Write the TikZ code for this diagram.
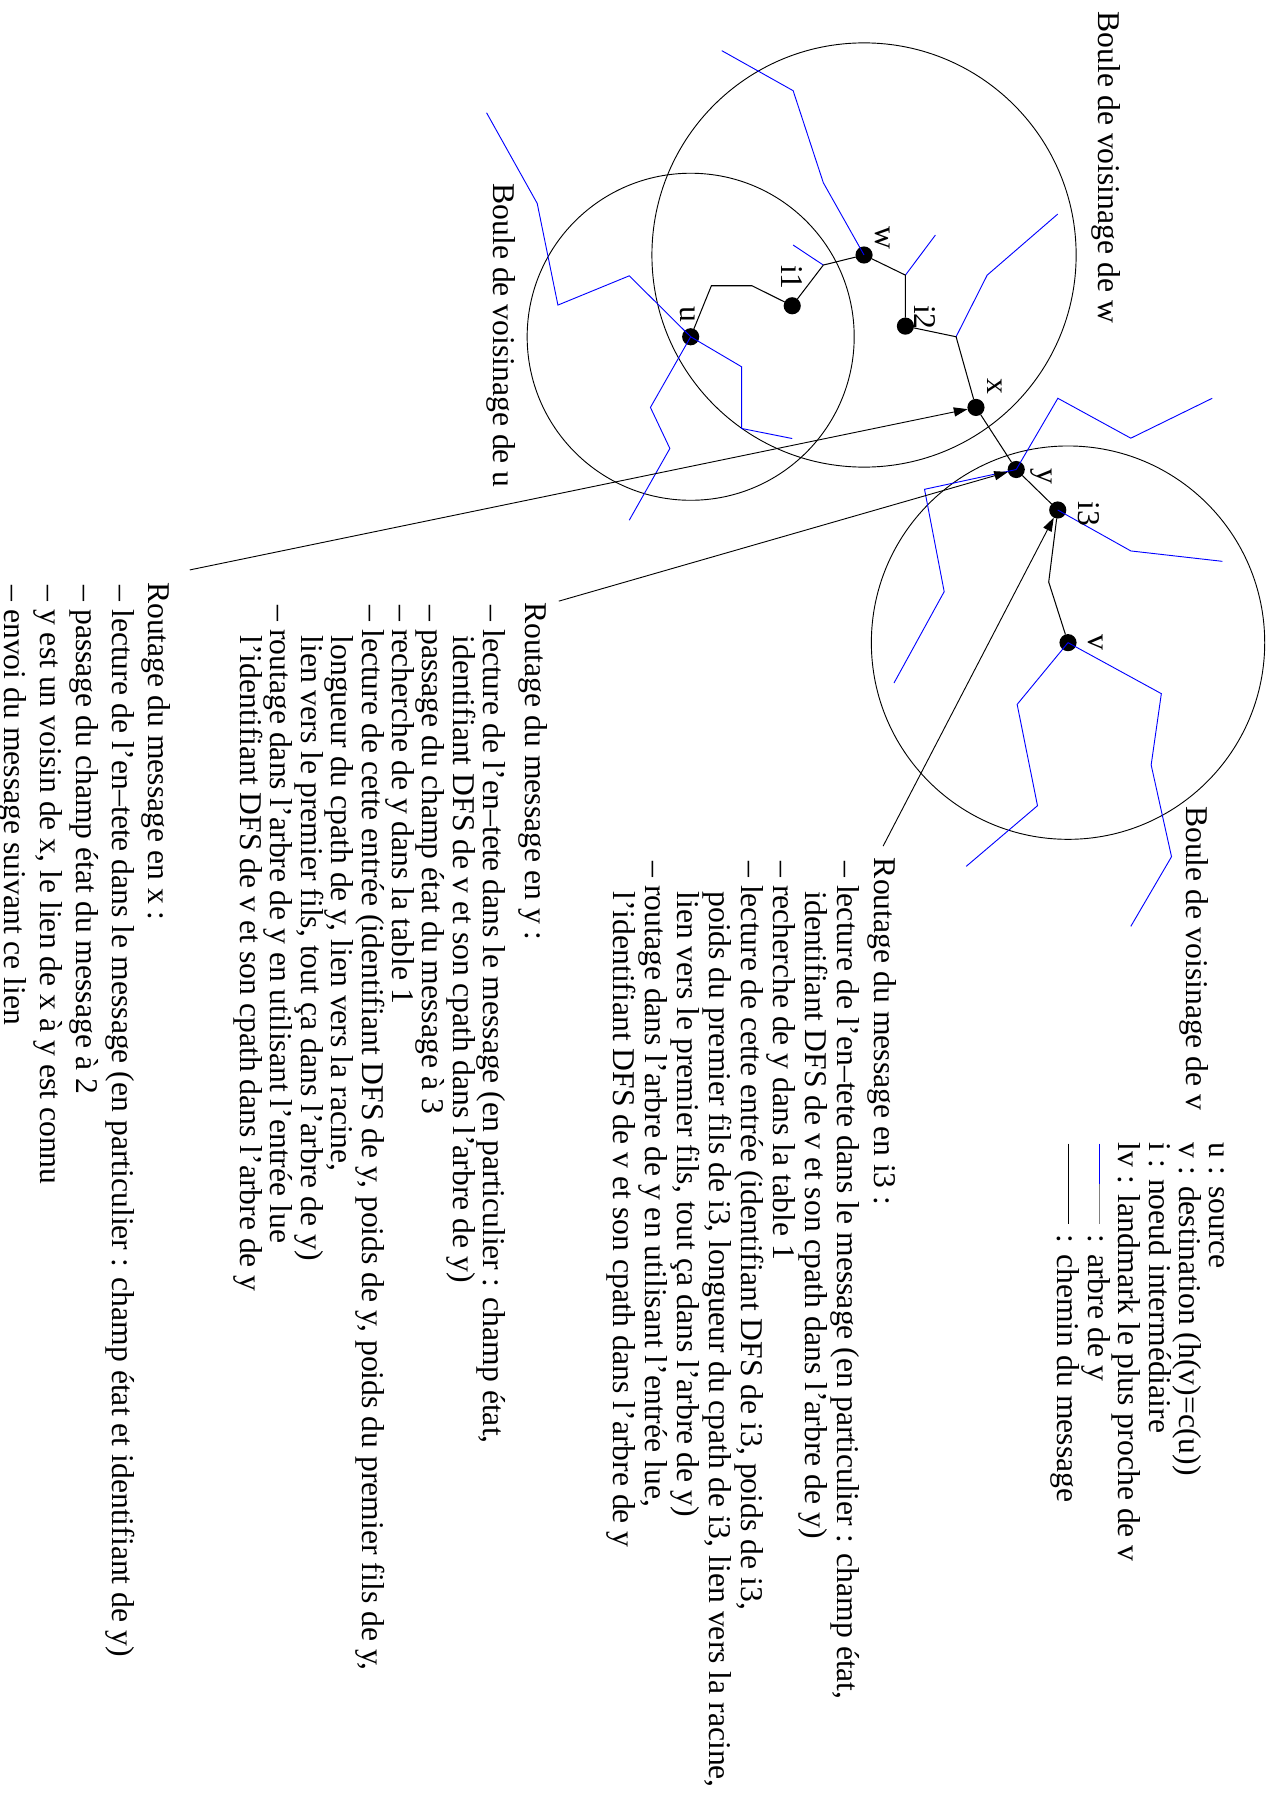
\documentclass[tikz,border=0pt]{standalone}
\usepackage{fontspec}
\setmainfont{Liberation Serif}
\usetikzlibrary{arrows.meta}
\newcommand\tblock[2]{\vtop{\baselineskip=#1\relax\lineskiplimit=-\maxdimen\lineskip=0pt #2}}
\newcommand\Ln[1]{\hbox{#1}}
\newcommand\Dn[1]{\hbox{\kern3pt– #1}}
\newcommand\Cn[1]{\hbox{\kern3pt\hphantom{– }\kern5.5pt#1}}
\newcommand\gapk[1]{\kern#1\relax}
\begin{document}
\begin{tikzpicture}[x=1pt,y=-1pt,
  every node/.style={inner sep=0pt,outer sep=0pt},
  dot/.style={circle,fill=black,minimum size=15pt},
  rtxt/.style={rotate=-90,anchor=base west,font=\fontsize{27.7}{30}\selectfont},
  tree/.style={draw=blue,line width=0.8pt},
  msg/.style={draw=black,line width=0.9pt},
  ball/.style={draw=black,line width=0.8pt},
  ptr/.style={draw=black,line width=0.8pt,-{Triangle[length=12pt,width=8pt]}}]
\useasboundingbox (0,0) rectangle (1117,1568);
% node centres
\coordinate (pu) at (604,294.5);
\coordinate (pi1) at (692.8,267.4);
\coordinate (pw) at (755.6,223);
\coordinate (pi2) at (791.8,285.2);
\coordinate (px) at (853.5,356.3);
\coordinate (py) at (888.7,410.6);
\coordinate (pi3) at (925,446);
\coordinate (pv) at (934,562);
% balls
\draw[ball] (pu) circle[radius=143pt];
\draw[ball] (pw) circle[radius=185.5pt];
\draw[ball] (pv) circle[radius=172pt];
% dots
\node[dot] (u) at (pu) {};
\node[dot] (i1) at (pi1) {};
\node[dot] (w) at (pw) {};
\node[dot] (i2) at (pi2) {};
\node[dot] (x) at (px) {};
\node[dot] (y) at (py) {};
\node[dot] (i3) at (pi3) {};
\node[dot] (v) at (pv) {};
% trees (blue)
\draw[tree] (631.2,44.3) -- (693.6,79.3) -- (720,159.8) -- (w.center);
\draw[tree] (693.6,214.3) -- (720,231.8);
\draw[tree] (791.8,240.6) -- (818,205.6);
\draw[tree] (925,187.2) -- (863.3,240.6) -- (836.1,294.5);
\draw[tree] (425.5,98.6) -- (469.8,177.9) -- (487.9,266.8) -- (550.3,241.2) -- (u.center) -- (648.6,320.8) -- (648.6,374.7) -- (692.8,383.5);
\draw[tree] (u.center) -- (568.8,356.3) -- (585.8,392.2) -- (550.3,454.9);
\draw[tree] (y.center) -- (925.1,348.3) -- (988.9,383.2) -- (1060.1,348.3);
\draw[tree] (y.center) -- (808.5,427.9) -- (825.7,517.4) -- (781.8,597.3);
\draw[tree] (i3.center) -- (988.9,481.8) -- (1069,490.9);
\draw[tree] (v.center) -- (889.5,616) -- (907.3,704.6) -- (845,757.6);
\draw[tree] (v.center) -- (1015.6,606.6) -- (1006.7,669) -- (1024.5,749.2) -- (988.9,810.1);
% message path
\draw[msg] (u) -- (622.1,249.9) -- (657.7,249.9) -- (i1);
\draw[msg] (i1) -- (720,231.8) -- (w);
\draw[msg] (w) -- (791.8,240.6) -- (i2);
\draw[msg] (i2) -- (836.1,294.5) -- (x);
\draw[msg] (x) -- (y);
\draw[msg] (y) -- (i3);
\draw[msg] (v) -- (917.1,509) -- (i3);
% node labels
\node[rtxt] (lw) at (765.4,198.3) {w};
\node[rtxt] (li1) at (683.8,231.8) {i1};
\node[rtxt] (lu) at (594.9,268.3) {u};
\node[rtxt] (li2) at (799.8,266.8) {i2};
\node[rtxt] (lx) at (863.3,331) {x};
\node[rtxt] (ly) at (907.4,409.7) {y};
\node[rtxt] (li3) at (942.9,438.8) {i3};
\node[rtxt] (lv) at (951.8,554.9) {v};
% ball labels
\node[rtxt] (bw) at (960.8,10.2) {Boule de voisinage de w};
\node[rtxt] (bu) at (431.7,160.4) {Boule de voisinage de u};
\node[rtxt] (bv) at (1037.7,705) {Boule de voisinage de v};
% legend
\node[rtxt] (leg1) at (1058,999.5) {\tblock{26.5pt}{%
  \Ln{u : source}\Ln{v : destination (h(v)=c(u))}\Ln{i : noeud intermédiaire}\Ln{lv : landmark le plus proche de v}}};
\node[rtxt] (leg2) at (951.5,1080) {\tblock{27pt}{%
  \Ln{: arbre de y}\Ln{: chemin du message}}};
\coordinate (lb1) at (961.5,1000);
\coordinate (lb2) at (961.5,1035);
\coordinate (lb3) at (961.5,1070.7);
\draw[tree] (lb1) -- (lb2);
\draw[draw=gray,line width=0.8pt] (lb2) -- (lb3);
\coordinate (lc1) at (934.3,1000);
\coordinate (lc2) at (934.3,1070.7);
\draw[msg] (lc1) -- (lc2);
% text blocks
\node[rtxt] (ti3) at (764.7,750.3) {\tblock{28pt}{%
  \Ln{Routage du message en i3 :}\gapk{4.5pt}%
  \Dn{lecture de l’en–tete dans le message (en particulier : champ état,}%
  \Cn{identifiant DFS de v et son cpath dans l’arbre de y)}%
  \Dn{recherche de y dans la table 1}%
  \Dn{lecture de cette entrée (identifiant DFS de i3, poids de i3,}%
  \Cn{poids du premier fils de i3, longueur du cpath de i3, lien vers la racine,}%
  \Cn{lien vers le premier fils, tout ça dans l’arbre de y)}%
  \Dn{routage dans l’arbre de y en utilisant l’entrée lue,}%
  \Cn{l’identifiant DFS de v et son cpath dans l’arbre de y}}};
\node[rtxt] (ty) at (459.7,526.5) {\tblock{26.6pt}{%
  \Ln{Routage du message en y :}\gapk{10pt}%
  \Dn{lecture de l’en–tete dans le message (en particulier : champ état,}%
  \Cn{identifiant DFS de v et son cpath dans l’arbre de y)}%
  \Dn{passage du champ état du message à 3}%
  \Dn{recherche de y dans la table 1}%
  \Dn{lecture de cette entrée (identifiant DFS de y, poids de y, poids du premier fils de y,}%
  \Cn{longueur du cpath de y, lien vers la racine,}%
  \Cn{lien vers le premier fils, tout ça dans l’arbre de y)}%
  \Dn{routage dans l’arbre de y en utilisant l’entrée lue}%
  \Cn{l’identifiant DFS de v et son cpath dans l’arbre de y}}};
\node[rtxt] (tx) at (130,509) {\tblock{31.5pt}{%
  \Ln{Routage du message en x :}%
  \Dn{lecture de l’en–tete dans le message (en particulier : champ état et identifiant de y)}%
  \Dn{passage du champ état du message à 2}%
  \Dn{y est un voisin de x, le lien de x à y est connu}%
  \Dn{envoi du message suivant ce lien}}};
% pointers
\coordinate (ax0) at (166,498.4);
\coordinate (ay0) at (488.7,525.7);
\coordinate (ai0) at (772.3,739.9);
\draw[ptr] (ax0) -- (x);
\draw[ptr] (ay0) -- (y);
\draw[ptr] (ai0) -- (i3);
\end{tikzpicture}
\end{document}
